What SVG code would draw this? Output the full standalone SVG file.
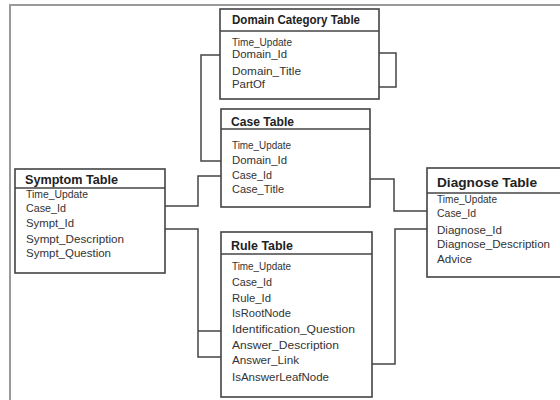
<svg xmlns="http://www.w3.org/2000/svg" width="560" height="400" viewBox="0 0 560 400">
<style>
.frame{fill:none;stroke:#9a9a9a;stroke-width:2}
.box{fill:#fff;stroke:#444;stroke-width:1.6}
.hdr{stroke:#444;stroke-width:1.6}
.conn{fill:none;stroke:#444;stroke-width:1.5}
.t{font-family:"Liberation Sans",Arial,sans-serif;font-weight:bold;font-size:12.5px;fill:#222}
.f{font-family:"Liberation Sans",Arial,sans-serif;font-size:11px;fill:#333}
</style>
<rect width="560" height="400" fill="#fff"/>
<path class="frame" d="M10,400 V5 H560"/>
<g id="connectors">
<path class="conn" d="M220,55 H201 V161 H221"/>
<path class="conn" d="M379,53 H396 V87 H379"/>
<path class="conn" d="M165,206 H198 V176 H221"/>
<path class="conn" d="M165,229 H198 V357 H221"/>
<path class="conn" d="M198,331 H221"/>
<path class="conn" d="M370,179 H394 V211 H427"/>
<path class="conn" d="M427,229 H395 V364 H372"/>
</g>
<g id="domain-category-table">
<rect class="box" x="220" y="9" width="159" height="90"/>
<line class="hdr" x1="220" y1="31" x2="379" y2="31"/>
<text class="t" x="232" y="24" textLength="128" lengthAdjust="spacingAndGlyphs">Domain Category Table</text>
<text class="f" x="232" y="46" textLength="60" lengthAdjust="spacingAndGlyphs">Time_Update</text>
<text class="f" x="232" y="58" textLength="55" lengthAdjust="spacingAndGlyphs">Domain_Id</text>
<text class="f" x="232" y="75" textLength="69" lengthAdjust="spacingAndGlyphs">Domain_Title</text>
<text class="f" x="232" y="88" textLength="33" lengthAdjust="spacingAndGlyphs">PartOf</text>
</g>
<g id="case-table">
<rect class="box" x="221" y="109" width="149" height="98"/>
<line class="hdr" x1="221" y1="129" x2="370" y2="129"/>
<text class="t" x="231" y="126" textLength="63" lengthAdjust="spacingAndGlyphs">Case Table</text>
<text class="f" x="232" y="149" textLength="59" lengthAdjust="spacingAndGlyphs">Time_Update</text>
<text class="f" x="232" y="164" textLength="55" lengthAdjust="spacingAndGlyphs">Domain_Id</text>
<text class="f" x="232" y="179" textLength="40" lengthAdjust="spacingAndGlyphs">Case_Id</text>
<text class="f" x="232" y="193" textLength="52" lengthAdjust="spacingAndGlyphs">Case_Title</text>
</g>
<g id="symptom-table">
<rect class="box" x="15" y="169" width="150" height="104"/>
<line class="hdr" x1="15" y1="188" x2="165" y2="188"/>
<text class="t" x="25" y="184" textLength="93" lengthAdjust="spacingAndGlyphs">Symptom Table</text>
<text class="f" x="26" y="198" textLength="62" lengthAdjust="spacingAndGlyphs">Time_Update</text>
<text class="f" x="26" y="212" textLength="40" lengthAdjust="spacingAndGlyphs">Case_Id</text>
<text class="f" x="26" y="227" textLength="48" lengthAdjust="spacingAndGlyphs">Sympt_Id</text>
<text class="f" x="26" y="243" textLength="98" lengthAdjust="spacingAndGlyphs">Sympt_Description</text>
<text class="f" x="26" y="257" textLength="85" lengthAdjust="spacingAndGlyphs">Sympt_Question</text>
</g>
<g id="diagnose-table">
<rect class="box" x="427" y="168" width="136" height="109"/>
<line class="hdr" x1="427" y1="193" x2="563" y2="193"/>
<text class="t" x="437" y="187" textLength="100" lengthAdjust="spacingAndGlyphs">Diagnose Table</text>
<text class="f" x="437" y="203" textLength="60" lengthAdjust="spacingAndGlyphs">Time_Update</text>
<text class="f" x="437" y="217" textLength="39" lengthAdjust="spacingAndGlyphs">Case_Id</text>
<text class="f" x="437" y="234" textLength="65" lengthAdjust="spacingAndGlyphs">Diagnose_Id</text>
<text class="f" x="437" y="248" textLength="113" lengthAdjust="spacingAndGlyphs">Diagnose_Description</text>
<text class="f" x="437" y="263" textLength="35" lengthAdjust="spacingAndGlyphs">Advice</text>
</g>
<g id="rule-table">
<rect class="box" x="221" y="232" width="151" height="165"/>
<line class="hdr" x1="221" y1="254" x2="372" y2="254"/>
<text class="t" x="231" y="250" textLength="62" lengthAdjust="spacingAndGlyphs">Rule Table</text>
<text class="f" x="232" y="270" textLength="59" lengthAdjust="spacingAndGlyphs">Time_Update</text>
<text class="f" x="232" y="286" textLength="40" lengthAdjust="spacingAndGlyphs">Case_Id</text>
<text class="f" x="232" y="302" textLength="39" lengthAdjust="spacingAndGlyphs">Rule_Id</text>
<text class="f" x="232" y="317" textLength="59" lengthAdjust="spacingAndGlyphs">IsRootNode</text>
<text class="f" x="232" y="333" textLength="123" lengthAdjust="spacingAndGlyphs">Identification_Question</text>
<text class="f" x="232" y="349" textLength="107" lengthAdjust="spacingAndGlyphs">Answer_Description</text>
<text class="f" x="232" y="364" textLength="67" lengthAdjust="spacingAndGlyphs">Answer_Link</text>
<text class="f" x="232" y="381" textLength="97" lengthAdjust="spacingAndGlyphs">IsAnswerLeafNode</text>
</g>
</svg>
